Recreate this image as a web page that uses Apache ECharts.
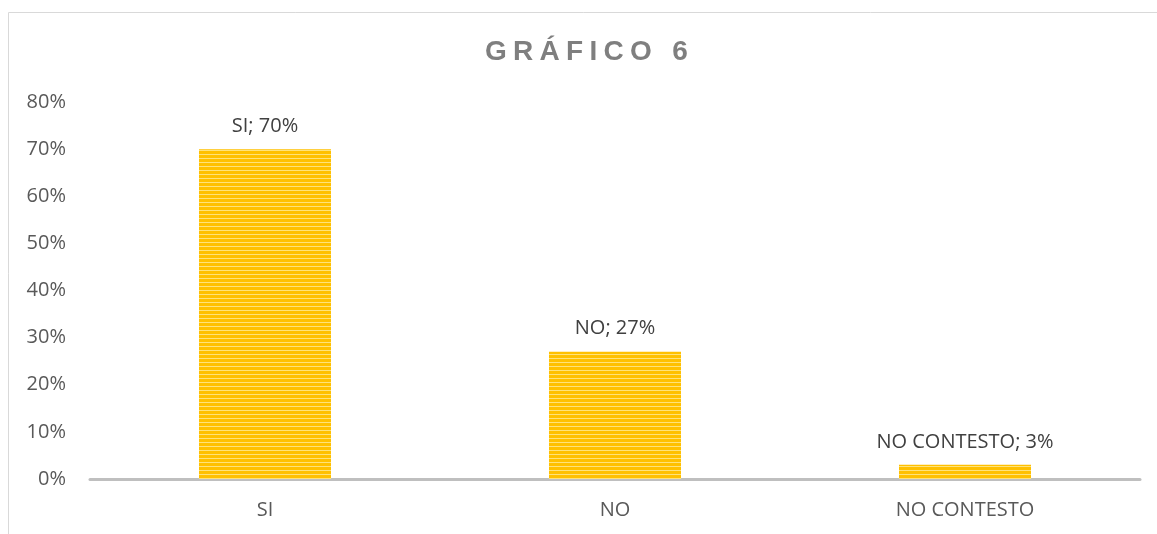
<!DOCTYPE html>
<html>
<head>
<meta charset="utf-8">
<script src="https://cdn.jsdelivr.net/npm/echarts@6/dist/echarts.min.js"></script>
<style>html,body{margin:0;padding:0;background:#fff}#c{width:1157px;height:534px}</style>
</head>
<body>
<div id="c"></div>
<script>
var titleText = 'GRÁFICO 6';
var categories = ['SI', 'NO', 'NO CONTESTO'];
var values = [70, 27, 3];
var yTicks = [0, 10, 20, 30, 40, 50, 60, 70, 80];

var cv = document.createElement('canvas');
cv.width = 8; cv.height = 4;
var ctx = cv.getContext('2d');
ctx.fillStyle = '#FFC000'; ctx.fillRect(0, 0, 8, 4);
ctx.fillStyle = '#FFE27A'; ctx.fillRect(0, 2, 8, 1);

// spaced title via rich text tokens (one per character)
var tFont = 'bold 28px "Liberation Sans"';
var mc = document.createElement('canvas').getContext('2d');
mc.font = tFont;
var rich = {}, markup = '';
titleText.split('').forEach(function (ch, i) {
  var w = mc.measureText(ch).width + (i < titleText.length - 1 ? 6.3 : 0);
  rich['c' + i] = {width: w, align: 'left', fontFamily: 'Liberation Sans', fontWeight: 'bold', fontSize: 28, color: '#7f7f7f'};
  markup += '{c' + i + '|' + (ch === ' ' ? '\u00a0' : ch) + '}';
});

var chart = echarts.init(document.getElementById('c'), null, {renderer: 'canvas'});
chart.setOption({
  animation: false,
  graphic: [{
    type: 'rect', shape: {x: 8.5, y: 12.5, width: 1160, height: 540},
    style: {fill: 'none', stroke: '#d9d9d9', lineWidth: 1}, silent: true, z: -1
  }],
  title: {
    text: markup, left: 480, top: 33,
    textStyle: {fontFamily: 'Liberation Sans', fontWeight: 'bold', fontSize: 28, color: '#7f7f7f', rich: rich}
  },
  grid: {left: 90, right: 17, top: 102, bottom: 55},
  xAxis: {
    type: 'category', data: categories,
    axisLine: {lineStyle: {color: '#bfbfbf', width: 3}},
    axisTick: {show: false},
    axisLabel: {color: '#595959', fontFamily: 'Open Sans', fontSize: 20, margin: 21}
  },
  yAxis: {
    type: 'value', min: 0, max: 80, interval: 10,
    axisLine: {show: false}, axisTick: {show: false}, splitLine: {show: false},
    axisLabel: {color: '#595959', fontFamily: 'Open Sans', fontSize: 20, margin: 24,
      formatter: function (v) { return yTicks.indexOf(v) >= 0 ? v + '%' : ''; }}
  },
  series: [{
    type: 'bar', data: values, barWidth: 132,
    itemStyle: {color: {image: cv, repeat: 'repeat'}},
    label: {show: true, position: 'top', distance: 13, color: '#404040', fontFamily: 'Open Sans', fontSize: 20,
      formatter: function (p) { return p.name + '; ' + p.value + '%'; }}
  }]
});
</script>
</body>
</html>
